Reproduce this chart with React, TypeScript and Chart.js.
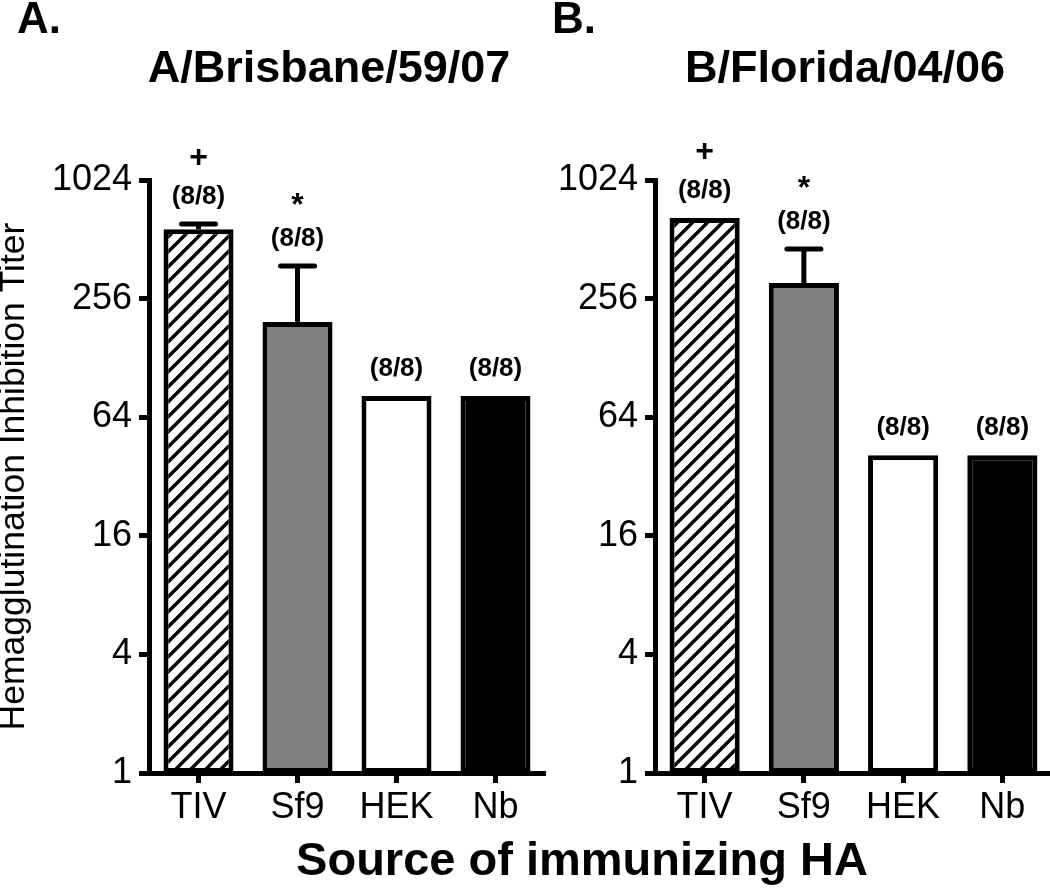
import React, { useEffect, useRef } from 'react';
import { Chart, registerables } from 'chart.js';

Chart.register(...registerables);

const categories = ['TIV', 'Sf9', 'HEK', 'Nb'];
const yTickValues = [1, 4, 16, 64, 256, 1024];
const brisbaneTiters = [576, 195, 82, 82];
const brisbaneErrorTops = [612, 375, null, null];
const floridaTiters = [657, 307, 41, 41];
const floridaErrorTops = [null, 457, null, null];
const responderLabels = ['(8/8)', '(8/8)', '(8/8)', '(8/8)'];
const significanceMarks = ['+', '*', '', ''];
const panelTitles = ['A/Brisbane/59/07', 'B/Florida/04/06'];
const panelLetters = ['A.', 'B.'];
const yAxisTitle = 'Hemagglutination Inhibition Titer';
const xAxisTitle = 'Source of immunizing HA';

const FONT = '"Liberation Sans", Arial, Helvetica, sans-serif';

function makeHatch(): CanvasPattern | string {
  const c = document.createElement('canvas');
  c.width = 15;
  c.height = 15;
  const g = c.getContext('2d');
  if (!g) return '#fff';
  g.fillStyle = '#fff';
  g.fillRect(0, 0, 15, 15);
  g.strokeStyle = '#000';
  g.lineWidth = 3.4;
  g.beginPath();
  g.moveTo(-2, 17);
  g.lineTo(17, -2);
  g.moveTo(-3, 3);
  g.lineTo(3, -3);
  g.moveTo(12, 18);
  g.lineTo(18, 12);
  g.stroke();
  return g.createPattern(c, 'repeat') || '#fff';
}

const annotationPlugin = {
  id: 'barAnnotations',
  afterDatasetsDraw(chart: any, _args: any, opts: any) {
    const { ctx } = chart;
    const meta = chart.getDatasetMeta(0);
    const yScale = chart.scales.y;
    const errs: (number | null)[] = opts.errorTops || [];
    ctx.save();
    meta.data.forEach((bar: any, i: number) => {
      const x = bar.x;
      let top = bar.y;
      const e = errs[i];
      if (e != null) {
        const ey = yScale.getPixelForValue(e);
        ctx.strokeStyle = '#000';
        ctx.lineWidth = 5;
        ctx.lineCap = 'butt';
        ctx.beginPath();
        ctx.moveTo(x, bar.y);
        ctx.lineTo(x, ey);
        ctx.stroke();
        ctx.lineCap = 'round';
        ctx.beginPath();
        ctx.moveTo(x - 17, ey);
        ctx.lineTo(x + 17, ey);
        ctx.stroke();
        top = ey;
      }
      const labelY = top - 27;
      ctx.fillStyle = '#000';
      ctx.textAlign = 'center';
      ctx.textBaseline = 'middle';
      ctx.font = `bold 26px ${FONT}`;
      ctx.fillText(responderLabels[i], x, labelY);
      const mark = significanceMarks[i];
      if (mark) {
        ctx.font = `bold 32px ${FONT}`;
        ctx.fillText(mark, x, labelY - (mark === '*' ? 33 : 39));
      }
    });
    ctx.restore();
  },
};

function makeConfig(values: number[], errorTops: (number | null)[], yWidth: number, showYTitle: boolean, padRight: number): any {
  return {
    type: 'bar',
    data: {
      labels: categories,
      datasets: [
        {
          data: values,
          backgroundColor: [makeHatch(), '#808080', '#ffffff', '#000000'],
          borderColor: '#000',
          borderWidth: 5,
          borderSkipped: false,
          barPercentage: 0.707,
          categoryPercentage: 1,
        },
      ],
    },
    options: {
      responsive: false,
      animation: false,
      devicePixelRatio: 1,
      layout: { padding: { top: 180, right: padRight, bottom: 0, left: 0 } },
      plugins: {
        legend: { display: false },
        tooltip: { enabled: false },
        title: { display: false },
        barAnnotations: { errorTops },
      },
      scales: {
        x: {
          type: 'category',
          offset: true,
          grid: {
            offset: false,
            drawOnChartArea: false,
            drawTicks: true,
            tickLength: 10,
            tickWidth: 5,
            tickColor: '#000',
          },
          border: { display: true, color: '#000', width: 5 },
          ticks: {
            color: '#000',
            font: { family: FONT, size: 36 },
            padding: 3,
            maxRotation: 0,
            autoSkip: false,
          },
          afterFit: (s: any) => {
            s.height = 119;
          },
        },
        y: {
          type: 'logarithmic',
          min: 1,
          max: 1024,
          afterBuildTicks: (s: any) => {
            s.ticks = yTickValues.map((v) => ({ value: v }));
          },
          afterFit: (s: any) => {
            s.width = yWidth;
          },
          grid: {
            drawOnChartArea: false,
            drawTicks: true,
            tickLength: 10,
            tickWidth: 5,
            tickColor: '#000',
          },
          border: { display: true, color: '#000', width: 5 },
          ticks: {
            color: '#000',
            font: { family: FONT, size: 36 },
            padding: 7,
            autoSkip: false,
            callback: (v: any) => String(v),
          },
          title: {
            display: showYTitle,
            text: yAxisTitle,
            color: '#000',
            font: { family: FONT, size: 35.5, lineHeight: 0.8 },
            padding: { top: 0, bottom: 0 },
          },
        },
      },
    },
    plugins: [annotationPlugin],
  };
}

function Panel(props: { values: number[]; errorTops: (number | null)[]; yWidth: number; showYTitle: boolean; padRight: number; width: number; left: number }) {
  const ref = useRef<HTMLCanvasElement | null>(null);
  useEffect(() => {
    if (!ref.current) return;
    const chart = new Chart(ref.current, makeConfig(props.values, props.errorTops, props.yWidth, props.showYTitle, props.padRight));
    return () => chart.destroy();
  }, []);
  return (
    <canvas
      ref={ref}
      width={props.width}
      height={892}
      style={{ position: 'absolute', left: props.left, top: 0, width: props.width, height: 892 }}
    />
  );
}

function Label(props: { text: string; x: number; baseline: number; size: number; center?: boolean }) {
  const top = props.baseline - 0.8465 * props.size;
  return (
    <div
      style={{
        position: 'absolute',
        left: props.x,
        top,
        fontFamily: FONT,
        fontWeight: 'bold',
        fontSize: props.size,
        lineHeight: `${props.size}px`,
        whiteSpace: 'nowrap',
        color: '#000',
        transform: props.center ? 'translateX(-50%)' : undefined,
      }}
    >
      {props.text}
    </div>
  );
}

export default function App() {
  return (
    <div
      style={{
        position: 'absolute',
        left: 0,
        top: 0,
        width: 1050,
        height: 892,
        overflow: 'hidden',
        background: '#fff',
      }}
    >
      <Panel values={brisbaneTiters} errorTops={brisbaneErrorTops} yWidth={149} showYTitle={true} padRight={5} width={550} left={0} />
      <Panel values={floridaTiters} errorTops={floridaErrorTops} yWidth={130} showYTitle={false} padRight={0} width={527} left={525} />
      <Label text={panelLetters[0]} x={17} baseline={33} size={44} />
      <Label text={panelLetters[1]} x={552} baseline={33} size={44} />
      <Label text={panelTitles[0]} x={329} baseline={82} size={45} center />
      <Label text={panelTitles[1]} x={845} baseline={82} size={45} center />
      <Label text={xAxisTitle} x={582} baseline={875} size={47} center />
    </div>
  );
}
